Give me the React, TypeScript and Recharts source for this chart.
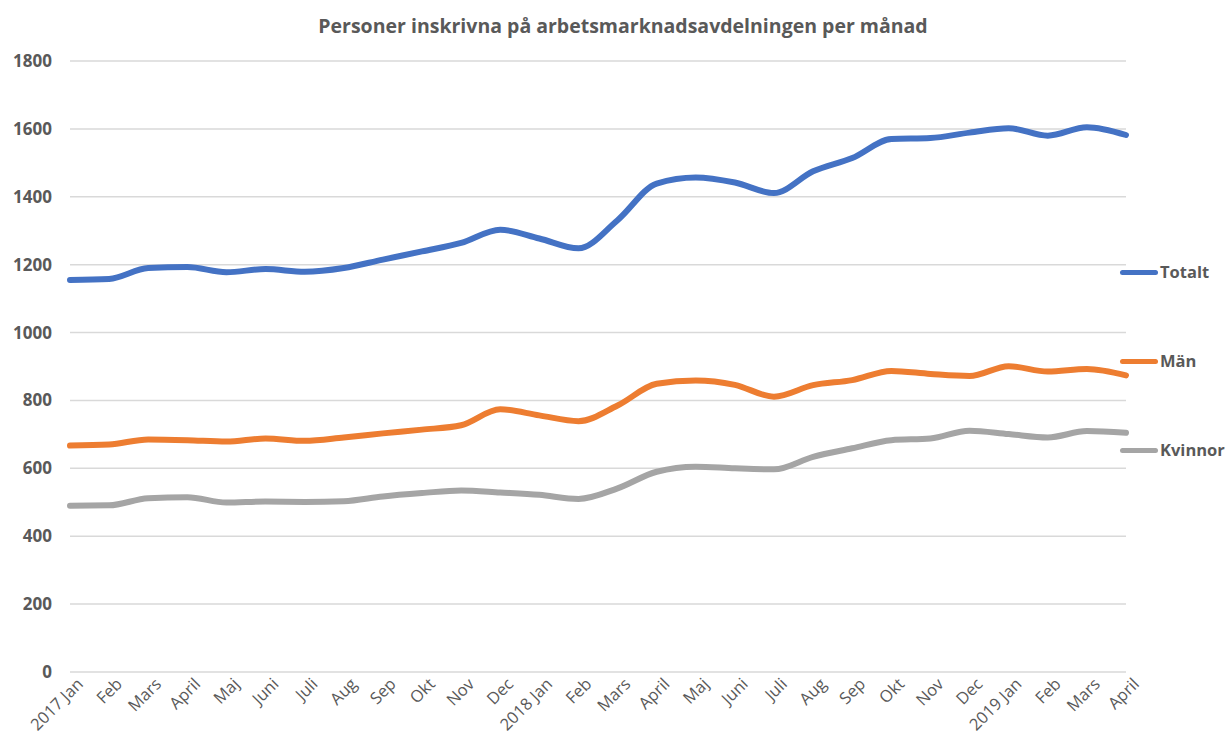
import React from 'react';
import { LineChart, Line, XAxis, YAxis, CartesianGrid } from 'recharts';

const months = [
  '2017 Jan', 'Feb', 'Mars', 'April', 'Maj', 'Juni', 'Juli', 'Aug', 'Sep', 'Okt', 'Nov', 'Dec',
  '2018 Jan', 'Feb', 'Mars', 'April', 'Maj', 'Juni', 'Juli', 'Aug', 'Sep', 'Okt', 'Nov', 'Dec',
  '2019 Jan', 'Feb', 'Mars', 'April',
];

const totalt = [
  1155, 1158, 1190, 1193, 1178, 1187, 1179, 1190, 1215, 1239, 1264, 1303,
  1277, 1248, 1331, 1439, 1457, 1442, 1411, 1475, 1514, 1570, 1573, 1589,
  1602, 1580, 1605, 1582,
];

const man = [
  667, 670, 685, 683, 679, 688, 681, 691, 703, 714, 727, 774,
  756, 739, 785, 849, 859, 846, 811, 845, 860, 887, 878, 872,
  901, 885, 893, 874,
];

const kvinnor = [
  490, 491, 512, 515, 499, 502, 501, 503, 517, 527, 535, 529,
  522, 510, 541, 590, 605, 600, 597, 634, 659, 683, 688, 711,
  701, 691, 710, 705,
];

const yTicks = [0, 200, 400, 600, 800, 1000, 1200, 1400, 1600, 1800];

const series = [
  { key: 'Totalt', color: '#4472C4' },
  { key: 'Män', color: '#ED7D31' },
  { key: 'Kvinnor', color: '#A5A5A5' },
];

const data = months.map((m, i) => ({
  idx: i,
  month: m,
  Totalt: totalt[i],
  'Män': man[i],
  Kvinnor: kvinnor[i],
}));

const FONT = '"Open Sans", "Liberation Sans", sans-serif';
const TEXT = '#595959';

const MonthTick = (props: any) => {
  const { x, payload } = props;
  return (
    <g transform={`translate(${x + 5},${676})`}>
      <text
        x={0}
        y={0}
        dy="0.78em"
        textAnchor="end"
        transform="rotate(-45)"
        fill={TEXT}
        fontSize={16.5}
        fontFamily={FONT}
      >
        {months[payload.value]}
      </text>
    </g>
  );
};

// legend entries sit beside the line ends, spread down the right side
const legendTops = [262, 351, 440];

export default function App() {
  return (
    <div style={{ position: 'absolute', left: 0, top: 0, width: 1226, height: 749, background: '#fff' }}>
      <div
        style={{
          position: 'absolute',
          top: 12,
          left: 10,
          width: 1226,
          textAlign: 'center',
          fontFamily: FONT,
          fontWeight: 700,
          fontSize: 19.5,
          color: TEXT,
        }}
      >
        Personer inskrivna på arbetsmarknadsavdelningen per månad
      </div>
      <LineChart
        width={1226}
        height={749}
        data={data}
        margin={{ top: 61, right: 100, left: 0, bottom: 7 }}
      >
        <CartesianGrid vertical={false} stroke="#D9D9D9" strokeWidth={1.5} />
        <XAxis
          dataKey="idx"
          type="category"
          height={70}
          axisLine={false}
          tickLine={false}
          interval={0}
          tick={<MonthTick />}
        />
        <YAxis
          width={70}
          domain={[0, 1800]}
          ticks={yTicks}
          axisLine={false}
          tickLine={false}
          tickMargin={12}
          tick={{ fill: TEXT, fontSize: 17, fontWeight: 700, fontFamily: FONT }}
        />
        {series.map(s => (
          <Line
            key={s.key}
            dataKey={s.key}
            type="monotone"
            stroke={s.color}
            strokeWidth={6}
            strokeLinecap="round"
            dot={false}
            activeDot={false}
            isAnimationActive={false}
          />
        ))}
      </LineChart>
      {series.map((s, i) => (
        <div
          key={s.key}
          style={{ position: 'absolute', left: 1120, top: legendTops[i], display: 'flex', alignItems: 'center' }}
        >
          <div style={{ width: 38, height: 5, borderRadius: 3, background: s.color }} />
          <span style={{ marginLeft: 2, fontFamily: FONT, fontWeight: 700, fontSize: 16.5, color: TEXT, lineHeight: '20px' }}>
            {s.key}
          </span>
        </div>
      ))}
    </div>
  );
}
